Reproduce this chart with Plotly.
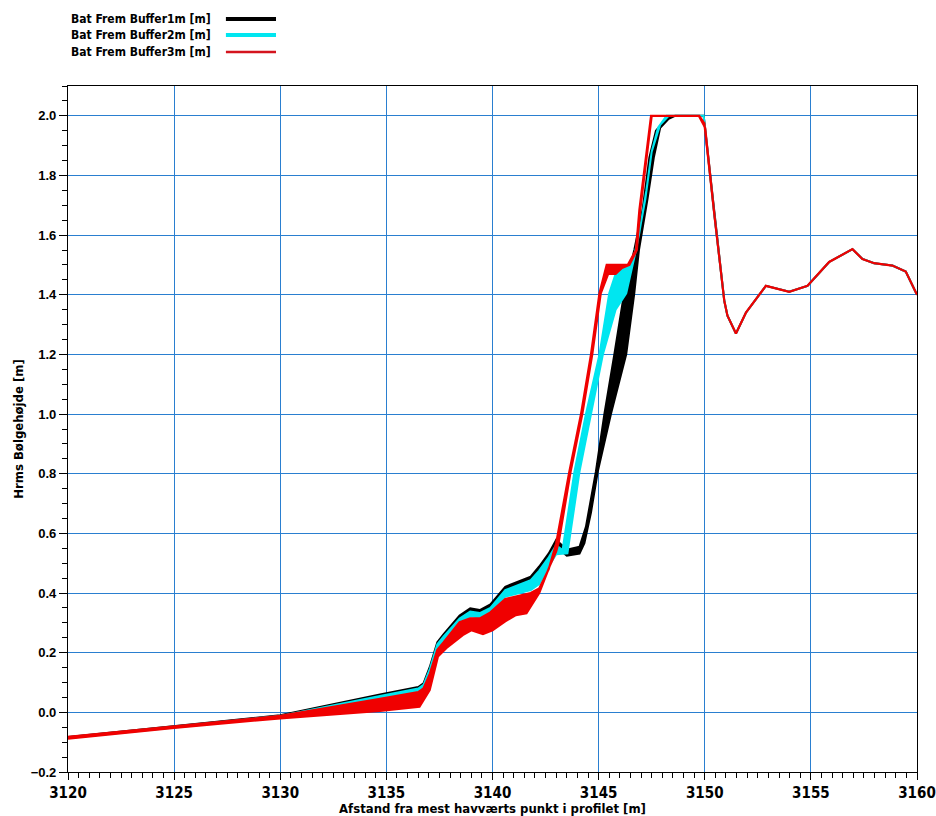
import plotly.graph_objects as go

# ---------------- data ----------------
series_names = ["Bat Frem Buffer1m [m]", "Bat Frem Buffer2m [m]", "Bat Frem Buffer3m [m]"]

# common seaward tail (all series coincide here)
tail_x = [3150.45, 3150.92, 3151.07, 3151.47, 3151.94, 3152.88, 3153.98, 3154.84,
          3155.86, 3156.96, 3157.43, 3157.98, 3158.84, 3159.47, 3160.0]
tail_y = [1.67, 1.38, 1.33, 1.27, 1.34, 1.43, 1.41, 1.43,
          1.51, 1.553, 1.52, 1.506, 1.498, 1.478, 1.40]

# Buffer 1 m (black) - upper / lower envelope
b1_up_x = [3120, 3125, 3130, 3134.7, 3136.5, 3136.75, 3137.05, 3137.4, 3137.7, 3138.45,
           3138.95, 3139.4, 3139.9, 3140.6, 3141.25, 3141.8, 3142.2, 3142.65, 3143.0, 3143.5,
           3144.1, 3144.4, 3144.87, 3145.27, 3145.74, 3146.2, 3146.68, 3147.07, 3147.39,
           3147.7, 3148.17, 3148.6, 3149.95]
b1_up_y = [-0.083, -0.046, -0.010, 0.060, 0.085, 0.097, 0.153, 0.235, 0.262, 0.325,
           0.349, 0.343, 0.362, 0.421, 0.438, 0.455, 0.489, 0.533, 0.578, 0.545,
           0.555, 0.622, 0.807, 1.0, 1.2, 1.405, 1.55, 1.685, 1.86,
           1.95, 1.99, 2.0, 2.0]
b1_lo_x = [3120, 3125, 3130, 3134.7, 3136.5, 3136.75, 3137.05, 3137.4, 3137.7, 3138.45,
           3138.95, 3139.4, 3139.9, 3140.6, 3141.25, 3141.8, 3142.2, 3142.65, 3143.0, 3143.5,
           3144.1, 3144.33, 3144.64, 3144.96, 3145.58, 3146.3, 3146.68, 3146.9, 3147.3,
           3147.6, 3147.9, 3148.3, 3148.6, 3149.95]
b1_lo_y = [-0.086, -0.050, -0.016, 0.050, 0.075, 0.088, 0.140, 0.222, 0.250, 0.310,
           0.335, 0.330, 0.348, 0.405, 0.422, 0.440, 0.472, 0.515, 0.555, 0.525,
           0.532, 0.567, 0.670, 0.807, 1.0, 1.2, 1.405, 1.55, 1.72,
           1.86, 1.96, 1.99, 2.0, 2.0]

# Buffer 2 m (cyan)
b2_up_x = [3120, 3125, 3130, 3134.7, 3136.5, 3136.75, 3137.05, 3137.4, 3137.7, 3138.45,
           3138.95, 3139.4, 3139.9, 3140.6, 3141.25, 3141.8, 3142.2, 3142.65, 3143.0, 3143.3,
           3143.86, 3144.4, 3145.04, 3145.5, 3145.8, 3146.6, 3146.9, 3147.25, 3147.5,
           3147.8, 3148.2, 3149.95]
b2_up_y = [-0.084, -0.047, -0.012, 0.055, 0.080, 0.092, 0.146, 0.228, 0.255, 0.315,
           0.338, 0.333, 0.350, 0.410, 0.427, 0.443, 0.475, 0.520, 0.560, 0.544,
           0.807, 1.0, 1.2, 1.405, 1.47, 1.51, 1.60, 1.75, 1.88,
           1.96, 2.0, 2.0]
b2_lo_x = [3120, 3125, 3130, 3134.7, 3136.5, 3136.75, 3137.05, 3137.4, 3137.7, 3138.45,
           3138.95, 3139.4, 3139.9, 3140.6, 3141.25, 3141.8, 3142.2, 3142.65, 3143.0, 3143.53,
           3144.1, 3144.64, 3145.2, 3145.8, 3146.3, 3146.76, 3147.2, 3147.5, 3147.9,
           3148.3, 3149.95]
b2_lo_y = [-0.086, -0.050, -0.016, 0.045, 0.070, 0.082, 0.135, 0.215, 0.240, 0.300,
           0.322, 0.318, 0.335, 0.388, 0.400, 0.410, 0.430, 0.490, 0.530, 0.533,
           0.807, 1.0, 1.2, 1.35, 1.405, 1.55, 1.72, 1.88, 1.97,
           2.0, 2.0]

# Buffer 3 m (red)
b3_up_x = [3120, 3125, 3130, 3134.7, 3136.5, 3136.75, 3137.05, 3137.4, 3137.7, 3138.45,
           3138.95, 3139.4, 3139.9, 3140.6, 3141.25, 3141.8, 3142.2, 3142.65, 3143.0,
           3143.62, 3144.17, 3144.64, 3145.04, 3145.38, 3146.37, 3146.76, 3146.92, 3147.47,
           3149.74, 3149.98]
b3_up_y = [-0.082, -0.046, -0.012, 0.045, 0.068, 0.080, 0.130, 0.210, 0.235, 0.302,
           0.315, 0.315, 0.335, 0.380, 0.392, 0.400, 0.415, 0.480, 0.567,
           0.807, 1.0, 1.2, 1.405, 1.50, 1.50, 1.55, 1.685, 2.0,
           2.0, 1.975]
b3_lo_x = [3120, 3125, 3130, 3134.7, 3136.56, 3137.04, 3137.43, 3137.82, 3138.6, 3139.0,
           3139.55, 3140.0, 3140.6, 3141.1, 3141.6, 3142.2, 3142.68, 3143.0, 3143.12,
           3143.68, 3144.23, 3144.7, 3145.1, 3145.45, 3145.8, 3146.1, 3146.45, 3146.8,
           3146.96, 3147.5, 3149.72, 3150.02]
b3_lo_y = [-0.088, -0.052, -0.020, 0.005, 0.019, 0.075, 0.187, 0.215, 0.259, 0.275,
           0.262, 0.275, 0.305, 0.326, 0.332, 0.400, 0.488, 0.540, 0.570,
           0.807, 1.0, 1.2, 1.405, 1.47, 1.47, 1.49, 1.50, 1.55,
           1.685, 2.0, 2.0, 1.96]

colors = ["#000000", "#00e6f0", "#f00000"]
legend_colors = ["#000000", "#00e6f0", "#d4141e"]


def band(up_x, up_y, lo_x, lo_y):
    xs = up_x + tail_x + tail_x[::-1] + lo_x[::-1]
    ys = up_y + tail_y + tail_y[::-1] + lo_y[::-1]
    return xs, ys


bands = [band(b1_up_x, b1_up_y, b1_lo_x, b1_lo_y),
         band(b2_up_x, b2_up_y, b2_lo_x, b2_lo_y),
         band(b3_up_x, b3_up_y, b3_lo_x, b3_lo_y)]

fig = go.Figure()
for name, (xs, ys), col, lw in zip(series_names, bands, colors, [2, 2, 2.2]):
    fig.add_trace(go.Scatter(x=xs, y=ys, mode="lines", name=name,
                             fill="toself", fillcolor=col,
                             line=dict(color=col, width=lw),
                             showlegend=False, hoverinfo="skip"))

narrow = "Liberation Sans Narrow, DejaVu Sans Condensed, Arial Narrow, sans-serif"
tick_font = dict(family=narrow, size=15, color="#000000", weight="bold")
ytick_font = dict(family="Liberation Sans, Arial, sans-serif", size=13, color="#000000",
                  weight="bold")
title_font = dict(family=narrow, size=13, color="#000000")
grid_col = "#2a7fd0"

fig.update_xaxes(range=[3120, 3160], tick0=3120, dtick=5, showgrid=True,
                 gridcolor=grid_col, gridwidth=1, automargin=False,
                 showline=True, linecolor="#000000", linewidth=1.2, mirror=True,
                 ticks="outside", ticklen=7, tickwidth=1, tickcolor="#000000",
                 tickfont=tick_font,
                 minor=dict(dtick=0.5, ticks="outside", ticklen=5, tickcolor="#000000",
                            showgrid=False),
                 zeroline=False,
                 title=dict(text="<b>Afstand fra mest havværts punkt i profilet [m]</b>",
                            font=title_font, standoff=2))
fig.update_yaxes(range=[-0.2, 2.1], tick0=0, dtick=0.2, tickformat=".1f",
                 showgrid=True, gridcolor=grid_col, gridwidth=1, automargin=False,
                 showline=True, linecolor="#000000", linewidth=1.2, mirror=True,
                 ticks="outside", ticklen=8, tickwidth=1, tickcolor="#000000",
                 tickfont=ytick_font,
                 minor=dict(dtick=0.05, ticks="outside", ticklen=5, tickcolor="#000000",
                            showgrid=False),
                 zeroline=False,
                 title=dict(text="<b>Hrms Bølgehøjde [m]</b>", font=title_font, standoff=4))

# legend drawn top-left: text then line sample on the right
legend_font = dict(family=narrow, size=12, color="#000000")
rows_y = [1.0977, 1.0743, 1.0496]
for name, col, ry, w in zip(series_names, legend_colors, rows_y, [4, 4, 2.5]):
    fig.add_annotation(x=0.171, y=ry, xref="paper", yref="paper", text="<b>" + name + "</b>",
                       showarrow=False, xanchor="right", yanchor="middle", font=legend_font)
    fig.add_shape(type="line", xref="paper", yref="paper", x0=0.186, x1=0.245, y0=ry, y1=ry,
                  line=dict(color=col, width=w))

fig.update_layout(width=936, height=816,
                  margin=dict(l=68, r=19, t=86, b=44),
                  paper_bgcolor="white", plot_bgcolor="white",
                  showlegend=False)

fig.write_html("out.html")
